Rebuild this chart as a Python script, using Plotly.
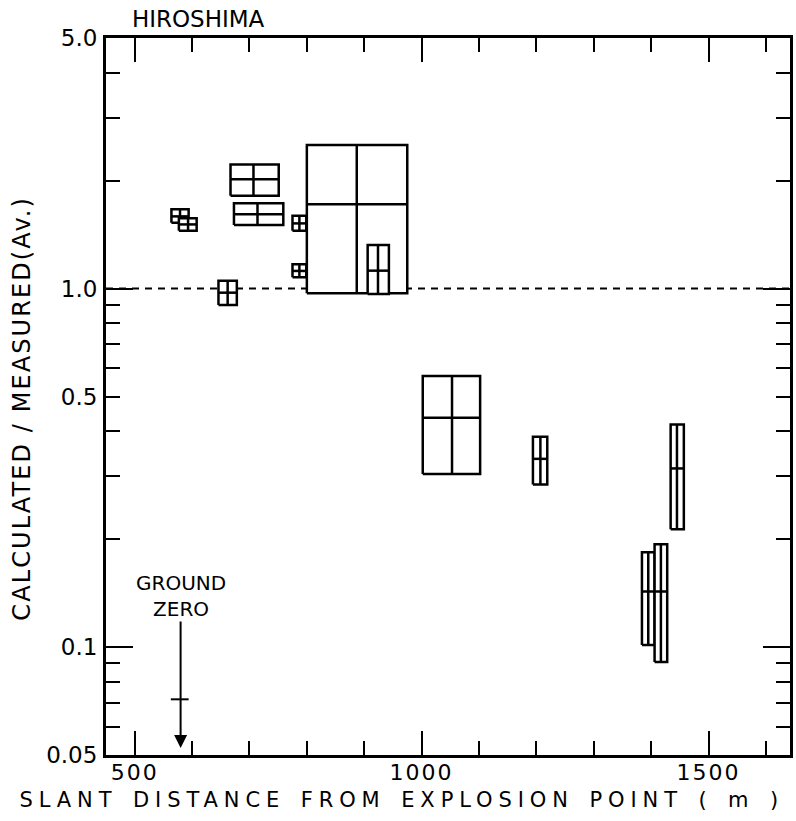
import math
import plotly.graph_objects as go

# ---------------- data ----------------
# each box: slant-distance range (x) and calculated/measured range (y), with centre values
box_x_lo  = [564, 577, 667, 673, 775, 775, 646, 800, 906, 1002, 1194, 1434, 1384, 1406]
box_x_hi  = [594, 608, 751, 759, 799, 799, 678, 975, 943, 1102, 1219, 1457, 1406, 1428]
box_x_mid = [579, 593, 707, 714, 787, 787, 662, 887, 924, 1053, 1207, 1445, 1395, 1417]
box_y_lo  = [1.527, 1.45, 1.816, 1.504, 1.45, 1.075, 0.90, 0.970, 0.966, 0.304, 0.284, 0.213, 0.1014, 0.0909]
box_y_hi  = [1.664, 1.57, 2.22, 1.729, 1.597, 1.169, 1.052, 2.515, 1.323, 0.570, 0.386, 0.418, 0.1838, 0.1935]
box_y_mid = [1.59, 1.51, 2.018, 1.612, 1.52, 1.12, 0.974, 1.718, 1.122, 0.436, 0.335, 0.315, 0.1429, 0.1429]

ref_ratio = 1.0

gz_x = 580
gz_arrow_top = 0.119
gz_arrow_tip = 0.0523
gz_bar_x = [563, 594]
gz_bar_y = [0.0715, 0.0715]

x_range = [450, 1642]
y_range = [0.05, 5.0]

x_major = [500, 1000, 1500]
x_major_text = ["500", "1000", "1500"]
x_minor = [600, 700, 800, 900, 1100, 1200, 1300, 1400, 1600]

y_major = [0.05, 0.1, 0.5, 1.0, 5.0]
y_major_text = ["0.05", "0.1", "0.5", "1.0", "5.0"]
y_minor = [0.06, 0.07, 0.08, 0.09, 0.2, 0.3, 0.4, 0.6, 0.7, 0.8, 0.9, 2, 3, 4]
y_long = [0.1, 1.0]

x_title = "SLANT DISTANCE FROM EXPLOSION POINT ( m )"
y_title = "CALCULATED / MEASURED(Av.)"
chart_title = "HIROSHIMA"
gz_label = "GROUND<br>ZERO"

# ---------------- figure ----------------
W, H = 796, 821
ML, MR, MT, MB = 106, 3, 38, 66
PW, PH = W - ML - MR, H - MT - MB

fig = go.Figure()

# dashed reference line at ratio 1.0
fig.add_trace(go.Scatter(x=x_range, y=[ref_ratio, ref_ratio], mode="lines",
                         line=dict(color="black", width=2, dash="7px,6px"),
                         hoverinfo="skip", showlegend=False))

# boxes with centre cross
for xl, xh, xm, yl, yh, ym in zip(box_x_lo, box_x_hi, box_x_mid, box_y_lo, box_y_hi, box_y_mid):
    px = [xl, xh, xh, xl, xl, None, xm, xm, None, xl, xh]
    py = [yl, yl, yh, yh, yl, None, yl, yh, None, ym, ym]
    fig.add_trace(go.Scatter(x=px, y=py, mode="lines", fill="toself", fillcolor="white",
                             line=dict(color="black", width=2.5),
                             hoverinfo="skip", showlegend=False))

# ground-zero cross bar
fig.add_trace(go.Scatter(x=gz_bar_x, y=gz_bar_y, mode="lines",
                         line=dict(color="black", width=2),
                         hoverinfo="skip", showlegend=False))

# dummy trace for long-tick overlay axis
fig.add_trace(go.Scatter(x=[None], y=[None], yaxis="y2", showlegend=False, hoverinfo="skip"))

# annotation 0: ground-zero arrow
fig.add_annotation(x=gz_x, y=math.log10(gz_arrow_tip), ax=gz_x, ay=math.log10(gz_arrow_top),
                   xref="x", yref="y", axref="x", ayref="y", text="", showarrow=True,
                   arrowhead=2, arrowsize=1.3, arrowwidth=2, arrowcolor="black")
# annotation 1: ground-zero label
fig.add_annotation(x=gz_x, y=math.log10(gz_arrow_top), xref="x", yref="y",
                   text=gz_label, showarrow=False, yanchor="bottom", xanchor="center",
                   yshift=-3, font=dict(size=20, color="black", family="DejaVu Sans"))
# annotation 2: x-axis title
fig.add_annotation(x=(403 - ML) / PW, y=-(800 - (MT + PH)) / PH, xref="paper", yref="paper",
                   text=x_title, showarrow=False, xanchor="center", yanchor="middle",
                   font=dict(size=21, color="black", family="DejaVu Sans"))
# annotation 3: y-axis title
fig.add_annotation(x=(22 - ML) / PW, y=((MT + PH) - 408) / PH, xref="paper", yref="paper",
                   text=y_title, showarrow=False, xanchor="center", yanchor="middle",
                   textangle=-90, font=dict(size=24, color="black", family="DejaVu Sans"))

axis_common = dict(showline=True, linewidth=3, linecolor="black", mirror="ticks",
                   ticks="inside", tickwidth=2.2, tickcolor="black",
                   showgrid=False, zeroline=False)

fig.update_layout(
    width=W, height=H,
    margin=dict(l=ML, r=MR, t=MT, b=MB),
    plot_bgcolor="white", paper_bgcolor="white",
    showlegend=False,
    font=dict(family="DejaVu Sans", color="black"),
    title=dict(text=chart_title, x=(132 - ML) / PW, xref="paper", xanchor="left",
               y=1 - 19 / H, yref="container", yanchor="middle",
               font=dict(size=23, color="black", family="DejaVu Sans")),
    xaxis=dict(range=x_range, tickmode="array", tickvals=x_major, ticktext=x_major_text,
               ticklen=24, tickfont=dict(size=22), ticklabelstandoff=-4,
               minor=dict(tickmode="array", tickvals=x_minor, ticks="inside",
                          ticklen=14, tickwidth=2.2, tickcolor="black", showgrid=False),
               **axis_common),
    yaxis=dict(type="log", range=[math.log10(y_range[0]), math.log10(y_range[1])],
               tickmode="array", tickvals=y_major, ticktext=y_major_text,
               ticklen=14, tickfont=dict(size=23), ticklabelstandoff=1,
               minor=dict(tickmode="array", tickvals=y_minor, ticks="inside",
                          ticklen=14, tickwidth=2.2, tickcolor="black", showgrid=False),
               **axis_common),
    yaxis2=dict(type="log", overlaying="y", side="left",
                range=[math.log10(y_range[0]), math.log10(y_range[1])],
                tickmode="array", tickvals=y_long, ticks="inside", ticklen=27,
                tickwidth=2.2, tickcolor="black", showticklabels=False,
                showline=False, mirror="ticks", showgrid=False, zeroline=False),
)

post = """
document.body.style.margin = '0';
var s = document.createElement('style');
s.textContent = '.annotation[data-index="2"] text{letter-spacing:5.9px; word-spacing:3px;}'
  + ' .annotation[data-index="3"] text{letter-spacing:2.1px;}'
  + ' .xtick text{letter-spacing:2px;}';
document.head.appendChild(s);
"""

fig.write_html("out.html", post_script=post, config={"displayModeBar": False})
